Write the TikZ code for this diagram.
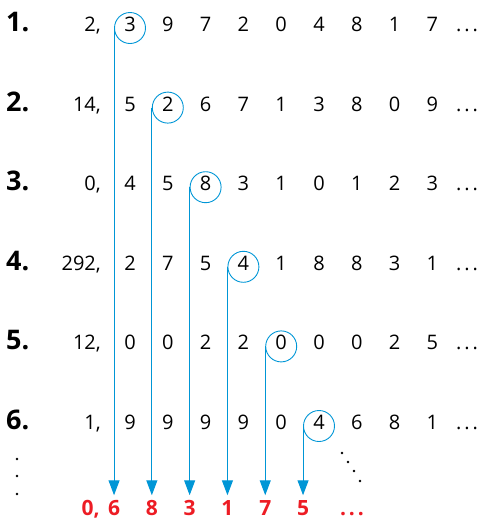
\documentclass[tikz,border=0pt]{standalone}
\usepackage{fontspec}
\setmainfont{Open Sans}
\usetikzlibrary{arrows.meta}
\definecolor{pickblue}{RGB}{0,150,214}
\definecolor{resred}{RGB}{237,28,36}
\tikzset{
  digit/.style={font=\fontsize{20}{20}\selectfont, text height=0.71em, text depth=0pt, inner sep=0pt},
  rowlabel/.style={font=\fontsize{27}{27}\selectfont\bfseries, anchor=west, text height=0.71em, text depth=0pt, inner sep=0pt},
  pick/.style={draw=pickblue, circle, minimum size=31pt, inner sep=0pt, line width=0.9pt},
  result/.style={font=\fontsize{21}{21}\selectfont\bfseries, text=resred, text height=0.71em, text depth=0pt, inner sep=0pt},
  down/.style={draw=pickblue, line width=1.1pt, -{Triangle[width=11pt,length=15pt]}, shorten >=13pt},
}
\begin{document}
\begin{tikzpicture}[x=1pt,y=-1pt]
	\useasboundingbox (0,0) rectangle (481,523);
	\def\dx{37.8}
	
	% row 1
	\node[rowlabel] (lab1) at (6,28) {1.};
	\node[digit,anchor=east] (int1) at (101,28) {2,};
	\foreach \d [count=\c] in {3,9,7,2,0,4,8,1,7}
		\node[digit] (d1-\c) at ({130+(\c-1)*\dx},28) {\d};
	\node[digit] (dots1) at (467,28) {.\hspace{3pt}.\hspace{3pt}.};
	
	% row 2
	\node[rowlabel] (lab2) at (6,107.6) {2.};
	\node[digit,anchor=east] (int2) at (101,107.6) {14,};
	\foreach \d [count=\c] in {5,2,6,7,1,3,8,0,9}
		\node[digit] (d2-\c) at ({130+(\c-1)*\dx},107.6) {\d};
	\node[digit] (dots2) at (467,107.6) {.\hspace{3pt}.\hspace{3pt}.};
	
	% row 3
	\node[rowlabel] (lab3) at (6,187.2) {3.};
	\node[digit,anchor=east] (int3) at (101,187.2) {0,};
	\foreach \d [count=\c] in {4,5,8,3,1,0,1,2,3}
		\node[digit] (d3-\c) at ({130+(\c-1)*\dx},187.2) {\d};
	\node[digit] (dots3) at (467,187.2) {.\hspace{3pt}.\hspace{3pt}.};
	
	% row 4
	\node[rowlabel] (lab4) at (6,266.8) {4.};
	\node[digit,anchor=east] (int4) at (101,266.8) {292,};
	\foreach \d [count=\c] in {2,7,5,4,1,8,8,3,1}
		\node[digit] (d4-\c) at ({130+(\c-1)*\dx},266.8) {\d};
	\node[digit] (dots4) at (467,266.8) {.\hspace{3pt}.\hspace{3pt}.};
	
	% row 5
	\node[rowlabel] (lab5) at (6,346.4) {5.};
	\node[digit,anchor=east] (int5) at (101,346.4) {12,};
	\foreach \d [count=\c] in {0,0,2,2,0,0,0,2,5}
		\node[digit] (d5-\c) at ({130+(\c-1)*\dx},346.4) {\d};
	\node[digit] (dots5) at (467,346.4) {.\hspace{3pt}.\hspace{3pt}.};
	
	% row 6
	\node[rowlabel] (lab6) at (6,426) {6.};
	\node[digit,anchor=east] (int6) at (101,426) {1,};
	\foreach \d [count=\c] in {9,9,9,9,0,4,6,8,1}
		\node[digit] (d6-\c) at ({130+(\c-1)*\dx},426) {\d};
	\node[digit] (dots6) at (467,426) {.\hspace{3pt}.\hspace{3pt}.};
	
	% diagonal digits circled
	\foreach \i in {1,...,6}
		\node[pick] (o\i) at (d\i-\i) {};
	
	% resulting number
	\node[result,anchor=east] (res0) at (100,512) {0,};
	\node[result] (res1) at (o1.west |- 0,512) {6};
	\node[result] (res2) at (o2.west |- 0,512) {8};
	\node[result] (res3) at (o3.west |- 0,512) {3};
	\node[result] (res4) at (o4.west |- 0,512) {1};
	\node[result] (res5) at (o5.west |- 0,512) {7};
	\node[result] (res6) at (o6.west |- 0,512) {5};
	\node[result] (resdots) at (352,512) {.\hspace{3pt}.\hspace{3pt}.};
	
	% arrows down
	\foreach \i in {1,...,6}
		\draw[down] (o\i.west) -- (res\i.north);
	
	% more rows / more digits
	\foreach \y in {459,476,494}
		\fill (17,\y) circle (1.3);
	\foreach \p in {(342,453),(348,462),(354,471),(360,481)}
		\fill \p circle (1.3);
\end{tikzpicture}
\end{document}
